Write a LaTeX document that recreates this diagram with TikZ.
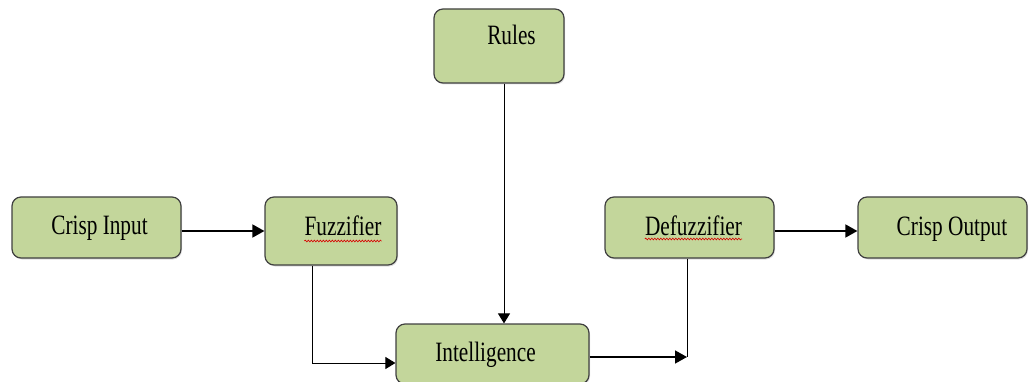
\documentclass[tikz,border=0pt]{standalone}
\usepackage{fontspec}
\setmainfont{Liberation Serif}
\usetikzlibrary{arrows.meta,shadows,decorations.pathmorphing}
\definecolor{boxfill}{HTML}{C3D69B}
\definecolor{boxline}{HTML}{404040}
\tikzset{
  block/.style={draw=boxline, line width=1.2pt, fill=boxfill, rounded corners=9pt,
    inner sep=0pt, drop shadow={opacity=0.25, shadow xshift=1pt, shadow yshift=-1.5pt}},
  lbl/.style={anchor=base, inner sep=0pt, font=\fontsize{28}{30}\selectfont},
  link/.style={draw=black, line width=1pt},
  flow/.style={link, line width=1.6pt, -{Triangle[length=12pt,width=13pt]}},
  feed/.style={link, -{Triangle[length=10pt,width=12pt]}},
  squiggle/.style={draw=red!85!black, line width=0.6pt,
    decorate, decoration={snake, amplitude=0.9pt, segment length=3pt}}
}
\newcommand{\narrow}[1]{\scalebox{0.76}[1]{#1}}
\begin{document}
\begin{tikzpicture}[x=1pt,y=-1pt]
  \useasboundingbox (0,0) rectangle (1033,382);

  % boxes
  \node[block, minimum width=169, minimum height=61] (in)    at (96.5,227.5) {};
  \node[block, minimum width=132, minimum height=68] (fuzz)  at (331,231)    {};
  \node[block, minimum width=130, minimum height=74] (rules) at (499,46)     {};
  \node[block, minimum width=193, minimum height=60] (intel) at (492.5,354)  {};
  \node[block, minimum width=169, minimum height=61] (defz)  at (689.5,227.5){};
  \node[block, minimum width=169, minimum height=61] (out)   at (942.5,227.5){};

  % labels
  \node[lbl] (tin)    at (99.5,234)  {\narrow{Crisp Input}};
  \node[lbl] (tfuzz)  at (343,236)   {\narrow{Fuzzifier}};
  \node[lbl] (trules) at (511.5,45)  {\narrow{Rules}};
  \node[lbl] (tintel) at (485.5,361) {\narrow{Intelligence}};
  \node[lbl] (tdefz)  at (693.5,235) {\narrow{Defuzzifier}};
  \node[lbl] (tout)   at (952,235)   {\narrow{Crisp Output}};

  % spell-check underlines
  \draw[squiggle] ([yshift=-5]tfuzz.base west) -- ([yshift=-5]tfuzz.base east);
  \draw[squiggle] ([yshift=-4]tdefz.base west) -- ([yshift=-4]tdefz.base east);

  % connectors
  \draw[flow] (in.east |- fuzz.west) -- (fuzz.west);
  \draw[feed] ([xshift=-19]fuzz.south) |- ([yshift=-9]intel.west);
  \draw[feed] ([xshift=5]rules.south) -- ([xshift=5]rules.south |- intel.north);
  \coordinate (join) at (687,357);
  \draw[link] (join |- defz.south) -- (join);
  \draw[flow] ([yshift=-3]intel.east) -- (join);
  \draw[flow] (defz.east |- 0,231) -- (out.west |- 0,231);
\end{tikzpicture}
\end{document}
